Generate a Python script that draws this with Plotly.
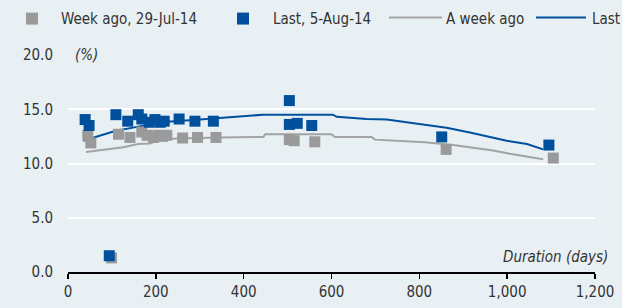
import plotly.graph_objects as go

# ---- data ----
week_ago_days = [45, 52, 99, 115, 141, 168, 180, 195, 205, 215, 225, 261, 295, 337, 504, 515, 562, 861, 1105]
week_ago_vals = [12.6, 11.9, 1.3, 12.7, 12.4, 12.9, 12.6, 12.4, 12.6, 12.5, 12.6, 12.35, 12.4, 12.4, 12.2, 12.1, 12.0, 11.3, 10.5]

last_days = [39, 48, 94, 109, 136, 160, 168, 185, 198, 210, 219, 253, 289, 331, 504, 504, 522, 555, 851, 1095]
last_vals = [14.05, 13.5, 1.5, 14.5, 13.9, 14.5, 14.1, 13.8, 14.05, 13.8, 13.9, 14.1, 13.9, 13.9, 15.8, 13.6, 13.7, 13.5, 12.45, 11.7]

curve_week_days = [41, 88, 126, 160, 187, 209, 247, 346, 445, 449, 600, 608, 691, 699, 756, 812, 877, 923, 968, 1006, 1037, 1082]
curve_week_vals = [11.07, 11.3, 11.5, 11.8, 11.85, 12.2, 12.3, 12.4, 12.45, 12.7, 12.7, 12.45, 12.45, 12.2, 12.1, 11.95, 11.7, 11.45, 11.2, 10.9, 10.7, 10.4]

curve_last_days = [35, 107, 160, 209, 285, 353, 364, 444, 603, 612, 680, 726, 771, 808, 862, 915, 953, 999, 1045, 1082]
curve_last_vals = [12.1, 13.0, 13.4, 13.8, 14.0, 14.2, 14.3, 14.5, 14.5, 14.3, 14.1, 14.05, 13.8, 13.6, 13.3, 12.85, 12.5, 12.1, 11.8, 11.3]

x_ticks = [0, 200, 400, 600, 800, 1000, 1200]
x_tick_labels = ["0", "200", "400", "600", "800", "1,000", "1,200"]
y_ticks = [0, 5, 10, 15, 20]
y_tick_labels = ["0.0", "5.0", "10.0", "15.0", "20.0"]

legend_labels = ["Week ago, 29-Jul-14", "Last, 5-Aug-14", "A week ago", "Last"]

# ---- style ----
BG = "#E8F0F3"
BLUE = "#00509E"
GREY_M = "#9A9A9A"
GREY_L = "#A3A3A3"
FONT = "Liberation Sans Narrow, DejaVu Sans Condensed, Arial Narrow, sans-serif"
TXT = "#333333"

W, H = 622, 308
L, R, T, B = 68, 27, 54.5, 36
PW, PH = W - L - R, H - T - B

def px(xp):
    return (xp - L) / PW

def py(yp):
    return (H - B - yp) / PH

fig = go.Figure()
fig.add_trace(go.Scatter(x=curve_week_days, y=curve_week_vals, mode="lines",
                         line=dict(color=GREY_L, width=2), name=legend_labels[2], showlegend=False))
fig.add_trace(go.Scatter(x=curve_last_days, y=curve_last_vals, mode="lines",
                         line=dict(color=BLUE, width=2), name=legend_labels[3], showlegend=False))
fig.add_trace(go.Scatter(x=week_ago_days, y=week_ago_vals, mode="markers",
                         marker=dict(symbol="square", size=11, color=GREY_M), name=legend_labels[0], showlegend=False))
fig.add_trace(go.Scatter(x=last_days, y=last_vals, mode="markers",
                         marker=dict(symbol="square", size=11, color=BLUE), name=legend_labels[1], showlegend=False))

# manual legend (the original overflows the canvas on the right)
ly = 18
shapes = [
    dict(type="rect", xref="paper", yref="paper", x0=px(26), x1=px(38), y0=py(ly + 6), y1=py(ly - 6),
         fillcolor=GREY_M, line=dict(width=0)),
    dict(type="rect", xref="paper", yref="paper", x0=px(237), x1=px(249), y0=py(ly + 6), y1=py(ly - 6),
         fillcolor=BLUE, line=dict(width=0)),
    dict(type="line", xref="paper", yref="paper", x0=px(389), x1=px(442), y0=py(ly - 1), y1=py(ly - 1),
         line=dict(color=GREY_L, width=2)),
    dict(type="line", xref="paper", yref="paper", x0=px(536), x1=px(586), y0=py(ly - 1), y1=py(ly - 1),
         line=dict(color=BLUE, width=2)),
]
annotations = []
for xpos, lab in zip([59, 271, 444, 590], legend_labels):
    annotations.append(dict(xref="paper", yref="paper", x=px(xpos), y=py(ly), text=lab, showarrow=False,
                            xanchor="left", yanchor="middle", font=dict(family=FONT, size=15, color=TXT)))
annotations.append(dict(xref="paper", yref="paper", x=px(72), y=1.0, text="<i>(%)</i>", showarrow=False,
                        xanchor="left", yanchor="middle", bgcolor=BG, borderpad=2,
                        font=dict(family=FONT, size=15, color=TXT)))
annotations.append(dict(xref="paper", yref="paper", x=px(610), y=py(257), text="<i>Duration (days)</i>",
                        showarrow=False, xanchor="right", yanchor="middle",
                        font=dict(family=FONT, size=15, color=TXT)))

fig.update_layout(
    width=W, height=H,
    margin=dict(l=L, r=R, t=T, b=B, pad=0),
    paper_bgcolor=BG, plot_bgcolor=BG,
    font=dict(family=FONT, size=15, color=TXT),
    showlegend=False,
    shapes=shapes,
    annotations=annotations,
    xaxis=dict(range=[0, 1200], tickvals=x_ticks, ticktext=x_tick_labels, automargin=False,
               showgrid=False, zeroline=False, showline=True, linecolor="#000000", linewidth=1.5,
               ticks="outside", ticklen=5, tickwidth=1.5, tickcolor="#000000",
               tickfont=dict(family=FONT, size=15, color=TXT)),
    yaxis=dict(range=[0, 20], tickvals=y_ticks, ticktext=y_tick_labels, automargin=False,
               showgrid=True, gridcolor="#FFFFFF", gridwidth=2, zeroline=False, showline=False,
               ticks="", ticklabelstandoff=14,
               tickfont=dict(family=FONT, size=15, color=TXT)),
)

fig.write_html("out.html",
               config={"displayModeBar": False, "staticPlot": True},
               post_script="document.body.style.margin='0';document.body.style.overflow='hidden';"
                           "document.body.style.background='" + BG + "';")
